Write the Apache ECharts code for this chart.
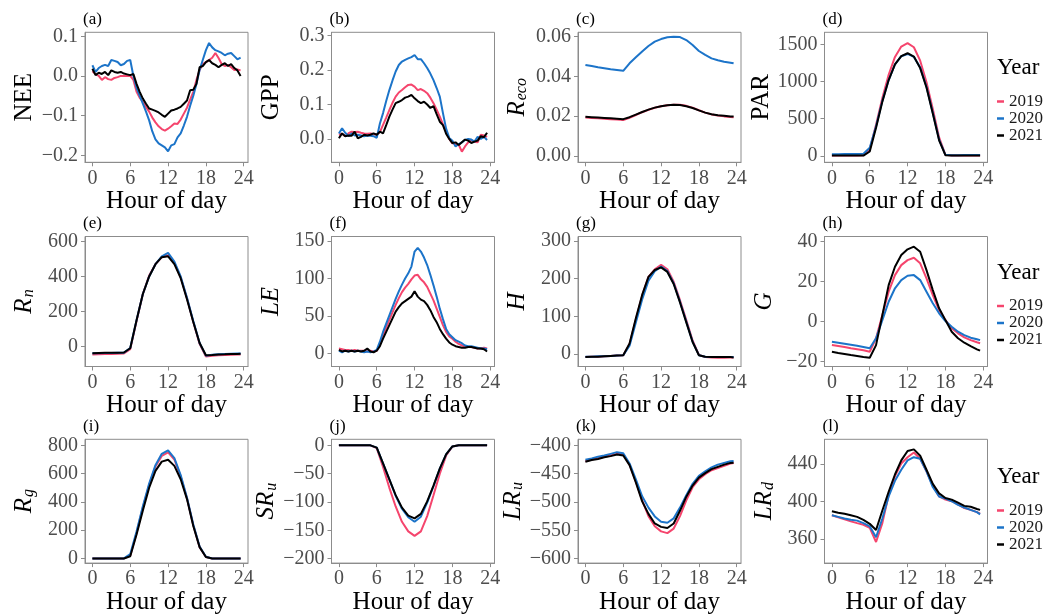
<!DOCTYPE html>
<html><head><meta charset="utf-8">
<script src="https://cdn.jsdelivr.net/npm/echarts@6/dist/echarts.min.js"></script>
<style>html,body{margin:0;padding:0;background:#fff}#c{width:1043px;height:616px}</style>
</head><body><div id="c"></div>
<script>
// ---------- x values ----------
const hoursHalf = [0,0.5,1,1.5,2,2.5,3,3.5,4,4.5,5,5.5,6,6.5,7,7.5,8,8.5,9,9.5,10,10.5,11,11.5,12,12.5,13,13.5,14,14.5,15,15.5,16,16.5,17,17.5,18,18.5,19,19.5,20,20.5,21,21.5,22,22.5,23,23.5];
const hoursHourly = [0,1,2,3,4,5,6,7,8,9,10,11,12,13,14,15,16,17,18,19,20,21,22,23,23.5];
const years = ['2019','2020','2021'];
const hourTicks = [0,6,12,18,24];

// ---------- (a) NEE, half-hourly ----------
const nee2019 = [0.012,0.005,0.000,-0.010,-0.003,-0.008,-0.010,-0.005,-0.003,0.000,0.000,0.000,0.000,-0.010,-0.040,-0.055,-0.065,-0.078,-0.090,-0.105,-0.117,-0.127,-0.134,-0.138,-0.133,-0.127,-0.120,-0.121,-0.110,-0.095,-0.080,-0.060,-0.040,-0.010,0.015,0.030,0.035,0.040,0.046,0.058,0.045,0.030,0.025,0.028,0.022,0.015,0.016,0.014];
const nee2020 = [0.027,0.010,0.020,0.025,0.028,0.025,0.040,0.038,0.035,0.027,0.030,0.038,0.040,0.000,-0.030,-0.050,-0.070,-0.090,-0.112,-0.140,-0.160,-0.170,-0.175,-0.180,-0.190,-0.175,-0.172,-0.155,-0.145,-0.125,-0.103,-0.075,-0.050,-0.020,0.015,0.040,0.065,0.083,0.072,0.065,0.062,0.058,0.052,0.056,0.058,0.050,0.042,0.046];
const nee2021 = [0.018,0.002,0.008,0.005,0.010,0.002,0.014,0.010,0.008,0.010,0.006,0.004,0.002,0.005,-0.020,-0.040,-0.057,-0.070,-0.082,-0.085,-0.088,-0.092,-0.098,-0.103,-0.095,-0.087,-0.085,-0.082,-0.078,-0.070,-0.062,-0.036,-0.035,-0.020,0.022,0.025,0.035,0.040,0.032,0.028,0.022,0.028,0.032,0.025,0.030,0.020,0.014,0.000];

// ---------- (b) GPP, half-hourly ----------
const gpp2019 = [0.012,0.015,0.008,0.016,0.021,0.020,0.021,0.018,0.016,0.015,0.016,0.014,0.012,0.020,0.041,0.062,0.084,0.105,0.123,0.135,0.142,0.150,0.157,0.158,0.152,0.142,0.145,0.140,0.133,0.120,0.104,0.085,0.065,0.042,0.021,0.000,-0.013,-0.015,-0.017,-0.037,-0.022,-0.010,-0.004,-0.008,-0.010,0.012,0.010,0.006];
const gpp2020 = [0.016,0.031,0.018,0.008,0.016,0.010,0.012,0.010,0.008,0.010,0.009,0.008,0.003,0.045,0.075,0.110,0.142,0.170,0.196,0.215,0.225,0.230,0.234,0.238,0.244,0.232,0.232,0.220,0.206,0.190,0.171,0.148,0.123,0.075,0.030,0.003,-0.005,-0.022,-0.015,-0.010,-0.003,0.000,-0.002,-0.008,0.006,0.000,0.006,-0.003];
const gpp2021 = [0.002,0.016,0.008,0.010,0.009,0.021,0.002,0.006,0.012,0.010,0.012,0.016,0.012,0.021,0.016,0.040,0.065,0.085,0.104,0.108,0.113,0.120,0.123,0.128,0.118,0.110,0.104,0.108,0.100,0.090,0.095,0.072,0.050,0.040,0.015,0.000,-0.012,-0.010,-0.018,-0.010,-0.002,-0.005,-0.012,-0.008,-0.005,0.008,0.005,0.018];

// ---------- (c) Reco, hourly ----------
const reco2019 = [0.0193,0.0191,0.0189,0.0187,0.0185,0.0183,0.0181,0.0192,0.0206,0.0220,0.0232,0.0242,0.0250,0.0255,0.0258,0.0257,0.0252,0.0243,0.0230,0.0218,0.0209,0.0203,0.0199,0.0196,0.0195];
const reco2020 = [0.0458,0.0452,0.0446,0.0441,0.0436,0.0432,0.0428,0.0466,0.0496,0.0525,0.0553,0.0575,0.0588,0.0597,0.0600,0.0598,0.0583,0.0558,0.0528,0.0508,0.0491,0.0481,0.0474,0.0469,0.0466];
const reco2021 = [0.0197,0.0195,0.0193,0.0191,0.0189,0.0187,0.0185,0.0195,0.0208,0.0221,0.0233,0.0243,0.0250,0.0255,0.0257,0.0256,0.0250,0.0241,0.0229,0.0218,0.0210,0.0205,0.0202,0.0199,0.0198];

// ---------- (d) PAR, hourly ----------
const par2019 = [5,5,5,5,5,8,90,420,780,1090,1330,1470,1515,1460,1280,990,630,250,15,5,5,5,5,5,5];
const par2020 = [22,24,25,26,28,30,110,400,740,1020,1230,1340,1370,1330,1190,930,580,220,15,10,10,12,12,14,14];
const par2021 = [5,5,5,5,5,5,60,380,730,1020,1230,1340,1380,1335,1180,920,570,210,10,5,5,5,5,5,5];

// ---------- (e) Rn, hourly ----------
const rn2019 = [-45,-44,-43,-42,-41,-40,-15,145,300,405,470,510,520,478,395,275,140,15,-57,-52,-50,-48,-47,-46,-46];
const rn2020 = [-38,-38,-37,-37,-36,-35,-8,150,300,400,470,515,535,485,400,278,145,20,-52,-47,-44,-42,-41,-40,-40];
const rn2021 = [-38,-37,-36,-36,-35,-34,-10,150,300,400,470,510,515,470,390,270,140,20,-50,-48,-45,-44,-42,-42,-41];

// ---------- (f) LE, half-hourly ----------
const le2019 = [7,6,5,5,4,5,4,4,4,3,4,3,4,12,24,35,45,55,65,74,82,88,93,99,104,105,99,95,89,80,71,60,49,38,29,23,20,16,13,11,9,9,9,8,7,7,8,7];
const le2020 = [4,2,4,3,4,3,4,3,2,3,2,3,5,16,29,40,51,62,73,83,92,100,107,116,136,141,136,128,118,105,91,76,60,46,33,26,22,18,16,14,11,10,10,9,8,7,7,6];
const le2021 = [5,3,4,3,4,3,4,3,4,7,3,2,4,10,20,29,38,47,56,62,67,70,73,76,83,76,72,70,65,58,49,42,33,26,20,15,12,10,9,8,8,9,9,8,7,7,6,3];

// ---------- (g) H, hourly ----------
const h2019 = [-8,-7,-7,-6,-5,-4,-3,26,92,155,205,225,237,225,192,143,90,36,-2,-8,-9,-10,-10,-9,-9];
const h2020 = [-7,-7,-6,-6,-5,-4,-3,22,84,145,195,220,232,220,188,139,86,33,-3,-7,-8,-8,-8,-8,-8];
const h2021 = [-8,-7,-7,-6,-5,-4,-3,28,95,157,205,223,230,218,186,137,84,32,-3,-7,-8,-8,-8,-8,-9];

// ---------- (h) G, hourly ----------
const g2019 = [-11.7,-12.2,-12.7,-13.3,-13.8,-14.3,-15,-8.3,3.3,15,23.3,28.3,30.8,32,29.2,21.7,13.3,5.8,0.8,-3.3,-5.8,-7.8,-9.2,-10.3,-10.8];
const g2020 = [-10,-10.5,-11,-11.5,-12,-12.6,-13.3,-8.3,0.8,10,16.7,20.8,23,23.3,20.8,15,9.2,4.2,0.3,-2.5,-5,-6.7,-8,-8.8,-9.2];
const g2021 = [-15,-15.6,-16.1,-16.7,-17.1,-17.6,-18,-11.7,3.3,18.3,27.5,33.3,36.2,37.5,35,25.8,15.8,6.7,0.8,-5,-8.3,-10.5,-12.2,-13.8,-14.5];

// ---------- (i) Rg, hourly ----------
const rg2019 = [0,0,0,0,0,0,20,180,360,520,650,725,750,700,580,425,235,80,10,0,0,0,0,0,0];
const rg2020 = [0,0,0,0,0,0,30,190,370,530,660,740,765,710,590,430,240,85,12,0,0,0,0,0,0];
const rg2021 = [0,0,0,0,0,0,15,170,340,500,620,685,698,655,560,420,230,80,10,0,0,0,0,0,0];

// ---------- (j) SRu, hourly ----------
const sru2019 = [0,0,0,0,0,0,-5,-38,-75,-108,-135,-152,-160,-152,-125,-88,-50,-18,-2,0,0,0,0,0,0];
const sru2020 = [0,0,0,0,0,0,-4,-32,-60,-89,-112,-127,-135,-126,-101,-72,-41,-16,-2,0,0,0,0,0,0];
const sru2021 = [0,0,0,0,0,0,-4,-32,-60,-88,-110,-124,-129,-121,-99,-71,-41,-16,-2,0,0,0,0,0,0];

// ---------- (k) LRu, hourly ----------
const lru2019 = [-428,-425,-423,-420,-418,-415,-416,-434,-464,-497,-525,-543,-552,-555,-547,-525,-497,-474,-460,-451,-444,-440,-436,-432,-431];
const lru2020 = [-425.6,-423,-420,-418,-415,-412,-414,-432,-460,-490,-510,-525.6,-535,-536.7,-529,-510,-488,-468,-454,-446,-439,-434,-431,-428,-427.8];
const lru2021 = [-429,-426,-424,-421,-419,-416,-418,-435,-465.6,-499,-521,-538,-544,-546,-538,-515.6,-490.6,-471,-457,-449,-442,-438,-434,-431,-430.6];

// ---------- (l) LRd, hourly ----------
const lrd2019 = [385.2,383,380.8,378.7,376.8,375.1,371.8,356.6,376.8,407,427.2,440.7,447.4,452.4,445.7,432.3,417.1,405.4,402,400.3,397,393,391,388.6,386.9];
const lrd2020 = [385.2,383.5,381.8,380.5,379.5,376.8,373.4,361.7,381.8,405.4,422.2,434,444,447.4,445.7,432.3,415.5,405.4,403,400.3,396.3,393.6,391,388.6,386.2];
const lrd2021 = [389.6,388,386.9,385.2,383.5,380.2,376.1,369.4,390.3,410.4,428.9,444,454.1,455.8,449,434,418.8,408.7,403.7,402,398.7,395.3,394.3,392,391];

// ---------- y tick labels ----------
const ticksA = [-0.2,-0.1,0,0.1];
const ticksB = [0,0.1,0.2,0.3];
const ticksC = [0,0.02,0.04,0.06];
const ticksD = [0,500,1000,1500];
const ticksE = [0,200,400,600];
const ticksF = [0,50,100,150];
const ticksG = [0,100,200,300];
const ticksH = [-20,0,20,40];
const ticksI = [0,200,400,600,800];
const ticksJ = [-200,-150,-100,-50,0];
const ticksK = [-600,-550,-500,-450,-400];
const ticksL = [360,400,440];

// ---------- panel definitions ----------
const panels = [
  {tag:'(a)', name:'NEE', x:hoursHalf, s:[nee2019,nee2020,nee2021], min:-0.2177, max:0.110, ticks:ticksA, dec:1},
  {tag:'(b)', name:'GPP', x:hoursHalf, s:[gpp2019,gpp2020,gpp2021], min:-0.068, max:0.31, ticks:ticksB, dec:1},
  {tag:'(c)', name:'{m|R}{s|eco}', x:hoursHourly, s:[reco2019,reco2020,reco2021], min:-0.0032, max:0.0622, ticks:ticksC, dec:2},
  {tag:'(d)', name:'PAR', x:hoursHourly, s:[par2019,par2020,par2021], min:-85, max:1661, ticks:ticksD, dec:0},
  {tag:'(e)', name:'{m|R}{s|n}', x:hoursHourly, s:[rn2019,rn2020,rn2021], min:-114, max:628, ticks:ticksE, dec:0},
  {tag:'(f)', name:'{m|LE}', x:hoursHalf, s:[le2019,le2020,le2021], min:-17, max:156, ticks:ticksF, dec:0},
  {tag:'(g)', name:'{m|H}', x:hoursHourly, s:[h2019,h2020,h2021], min:-33, max:312, ticks:ticksG, dec:0},
  {tag:'(h)', name:'{m|G}', x:hoursHourly, s:[g2019,g2020,g2021], min:-22.4, max:42.6, ticks:ticksH, dec:0},
  {tag:'(i)', name:'{m|R}{s|g}', x:hoursHourly, s:[rg2019,rg2020,rg2021], min:-33, max:843, ticks:ticksI, dec:0},
  {tag:'(j)', name:'{m|SR}{s|u}', x:hoursHourly, s:[sru2019,sru2020,sru2021], min:-208, max:10.7, ticks:ticksJ, dec:0},
  {tag:'(k)', name:'{m|LR}{s|u}', x:hoursHourly, s:[lru2019,lru2020,lru2021], min:-608, max:-389.3, ticks:ticksK, dec:0},
  {tag:'(l)', name:'{m|LR}{s|d}', x:hoursHourly, s:[lrd2019,lrd2020,lrd2021], min:334, max:466.6, ticks:ticksL, dec:0}
];

const FONT = '"Liberation Serif", "Times New Roman", serif';
const COLORS = ['#F5456D', '#1C74C9', '#000000'];
const colLeft = [85, 331.5, 578, 824.5];
const rowTop = [32.3, 236.5, 439.3];
const rowH = [130, 130, 131.4];
const boxW = 163;
const GRAY = '#8c8c8c';

const grid = [], xAxis = [], yAxis = [], series = [], title = [], legend = [];

panels.forEach((p, i) => {
  const r = Math.floor(i / 4), c = i % 4;
  grid.push({left: colLeft[c], top: rowTop[r], width: boxW, height: rowH[r],
    show: true, borderColor: GRAY, borderWidth: 1, backgroundColor: 'transparent'});
  xAxis.push({type: 'value', gridIndex: i, min: -1.175, max: 24.675,
    name: 'Hour of day', nameLocation: 'middle', nameGap: 19,
    nameTextStyle: {fontFamily: FONT, fontSize: 25, color: '#000'},
    axisLine: {show: true, onZero: false, lineStyle: {color: GRAY, width: 1}},
    axisTick: {show: true, customValues: hourTicks, length: 4, lineStyle: {color: GRAY}},
    axisLabel: {customValues: hourTicks, fontFamily: FONT, fontSize: 20, color: '#4d4d4d', margin: 6,
      formatter: v => String(v)},
    splitLine: {show: false}});
  const dec = p.dec;
  yAxis.push({type: 'value', gridIndex: i, min: p.min, max: p.max,
    name: p.name, nameLocation: 'middle', nameRotate: 90, nameGap: 48,
    nameTextStyle: {fontFamily: FONT, fontSize: 25, color: '#000',
      rich: {
        m: {fontFamily: FONT, fontSize: 25, fontStyle: 'italic', color: '#000', verticalAlign: 'top', lineHeight: 25},
        s: {fontFamily: FONT, fontSize: 16, fontStyle: 'italic', color: '#000', verticalAlign: 'bottom', lineHeight: 16, padding: [11, 0, 0, 1]}
      }},
    axisLine: {show: true, onZero: false, lineStyle: {color: GRAY, width: 1}},
    axisTick: {show: true, customValues: p.ticks, length: 4, lineStyle: {color: GRAY}},
    axisLabel: {customValues: p.ticks, fontFamily: FONT, fontSize: 20, color: '#4d4d4d', margin: 7,
      formatter: v => (v < 0 ? '\u2212' : '') + Math.abs(v).toFixed(dec)},
    splitLine: {show: false}});
  p.s.forEach((arr, k) => {
    series.push({type: 'line', name: years[k], xAxisIndex: i, yAxisIndex: i,
      data: arr.map((v, j) => [p.x[j], v]),
      showSymbol: false, symbol: 'none', clip: true,
      lineStyle: {color: COLORS[k], width: 2}, itemStyle: {color: COLORS[k]}});
  });
  title.push({text: p.tag, left: colLeft[c] - 2, top: rowTop[r] - 21, padding: 0,
    textStyle: {fontFamily: FONT, fontSize: 17, fontWeight: 'normal', color: '#000'}});
});

const legendTops = [93, 297.5, 502];
const yearTitleTops = [56, 261, 465];
for (let r = 0; r < 3; r++) {
  title.push({text: 'Year', left: 997, top: yearTitleTops[r], padding: 0,
    textStyle: {fontFamily: FONT, fontSize: 23, fontWeight: 'normal', color: '#000'}});
  legend.push({data: years, orient: 'vertical', left: 997, top: legendTops[r], padding: 0,
    icon: 'rect', itemWidth: 7, itemHeight: 2.5, itemGap: 0, selectedMode: false,
    textStyle: {fontFamily: FONT, fontSize: 17, lineHeight: 14, color: '#1a1a1a'}});
}

const chart = echarts.init(document.getElementById('c'), null, {renderer: 'canvas'});
chart.setOption({animation: false, backgroundColor: '#fff', grid, xAxis, yAxis, series, title, legend});
</script>
</body></html>
